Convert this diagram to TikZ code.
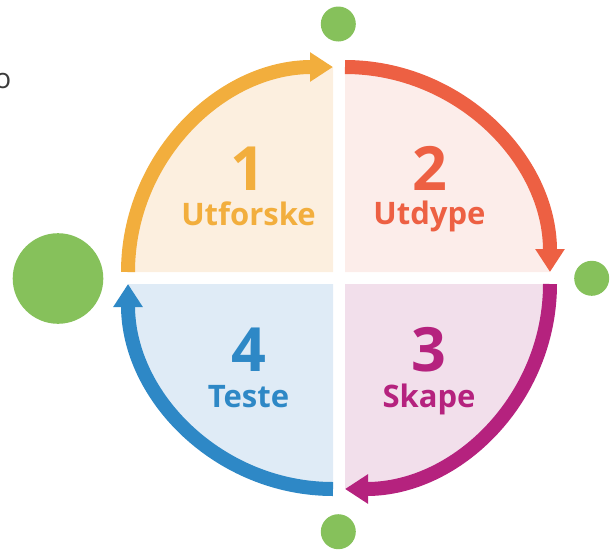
\documentclass[tikz,border=0pt]{standalone}
\usepackage{fontspec}
\setmainfont{Open Sans}
\usepackage{tikz}
\usetikzlibrary{arrows.meta}

\definecolor{orng}{RGB}{242,174,61}
\definecolor{rd}{RGB}{237,96,67}
\definecolor{mgnt}{RGB}{181,34,126}
\definecolor{blu}{RGB}{46,136,198}
\definecolor{grn}{RGB}{134,193,91}
\definecolor{orngbg}{RGB}{252,239,223}
\definecolor{rdbg}{RGB}{252,237,234}
\definecolor{mgntbg}{RGB}{242,223,235}
\definecolor{blubg}{RGB}{223,235,246}
\definecolor{txtgray}{RGB}{60,60,60}

\begin{document}
\begin{tikzpicture}[x=1pt,y=-1pt,>={Triangle[length=23pt,width=28pt]},
        ring/.style={line width=14pt,->},
        num/.style={font=\bfseries\fontsize{61}{61}\selectfont,anchor=base,inner sep=0pt},
        word/.style={font=\bfseries\fontsize{31}{31}\selectfont,anchor=base,inner sep=0pt},
        dot/.style={circle,fill=grn,inner sep=0pt,minimum size=#1}]

  \useasboundingbox (0,0) rectangle (611,550);

  % corners of the four quarters
  \coordinate (c1) at (333,272);
  \coordinate (c2) at (345,272);
  \coordinate (c3) at (345,284);
  \coordinate (c4) at (333,284);
  % where each arrow starts
  \coordinate (a1) at (128,272);
  \coordinate (a2) at (345,67);
  \coordinate (a3) at (550,284);
  \coordinate (a4) at (333,489);

  % quarters
  \fill[orngbg] (c1) -- (a1) arc[start angle=180,end angle=270,radius=205] -- cycle;
  \fill[rdbg] (c2) -- (a2) arc[start angle=270,end angle=360,radius=205] -- cycle;
  \fill[mgntbg] (c3) -- (a3) arc[start angle=0,end angle=90,radius=205] -- cycle;
  \fill[blubg] (c4) -- (a4) arc[start angle=90,end angle=180,radius=205] -- cycle;

  % arrows round the circle
  \draw[ring,orng] (a1) arc[start angle=180,end angle=270,radius=205];
  \draw[ring,rd] (a2) arc[start angle=270,end angle=360,radius=205];
  \draw[ring,mgnt] (a3) arc[start angle=0,end angle=90,radius=205];
  \draw[ring,blu] (a4) arc[start angle=90,end angle=180,radius=205];

  % labels
  \node[num,orng] (n1) at (248,190) {1};
  \node[word,orng] (w1) at (248.5,225) {Utforske};
  \node[num,rd] (n2) at (429.5,190) {2};
  \node[word,rd] (w2) at (429.5,224) {Utdype};
  \node[num,mgnt] (n3) at (429,371) {3};
  \node[word,mgnt] (w3) at (429,407) {Skape};
  \node[num,blu] (n4) at (248.5,371.5) {4};
  \node[word,blu] (w4) at (248.5,407) {Teste};

  % green dots
  \node[dot=90.6pt] (big) at (58,278.5) {};
  \node[dot=35pt] (top) at (338.3,24) {};
  \node[dot=35pt] (right) at (591.7,278.3) {};
  \node[dot=35pt] (bottom) at (338.3,531.7) {};

  \node[txtgray,font=\fontsize{28}{28}\selectfont,anchor=base east,inner sep=0pt] (cut) at (11.5,88) {o};

\end{tikzpicture}
\end{document}
